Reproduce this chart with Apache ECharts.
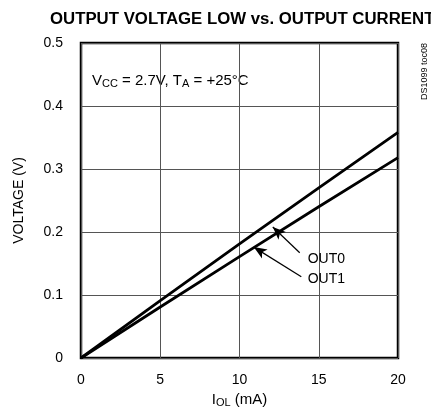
<!DOCTYPE html>
<html>
<head>
<meta charset="utf-8">
<script src="https://cdn.jsdelivr.net/npm/echarts@6/dist/echarts.min.js"></script>
<style>html,body{margin:0;padding:0;background:#fff;}#c{width:431px;height:419px;}</style>
</head>
<body>
<div id="c"></div>
<script>
var currentMA = [0, 5, 10, 15, 20];
var out0 = [0, 0.091, 0.181, 0.27, 0.358];
var out1 = [0, 0.081, 0.161, 0.24, 0.318];
var xTicks = [0, 5, 10, 15, 20];
var yTicks = [0, 0.1, 0.2, 0.3, 0.4, 0.5];
// annotation arrows (data units): [tailX, tailY, tipX, tipY]
var arrowOut0 = [13.8, 0.167, 12.1, 0.208];
var arrowOut1 = [13.9, 0.129, 10.9, 0.176];
var labelOut0 = [14.3, 0.157];
var labelOut1 = [14.3, 0.125];

var FONT = "'Liberation Sans', Arial, sans-serif";
var chart = echarts.init(document.getElementById('c'));

function pairs(xs, ys) { return xs.map(function (x, i) { return [x, ys[i]]; }); }

chart.setOption({
  animation: false,
  textStyle: { fontFamily: FONT, color: '#000' },
  title: {
    text: 'OUTPUT VOLTAGE LOW vs. OUTPUT CURRENT',
    left: 45, top: 6,
    textStyle: { fontFamily: FONT, fontWeight: 'bold', fontSize: 16.8, color: '#000' }
  },
  grid: { left: 81, right: 33, top: 43, bottom: 61, show: true, borderColor: '#000', borderWidth: 2.5, backgroundColor: 'transparent' },
  xAxis: {
    type: 'value', min: 0, max: 20, interval: 5,
    name: '{m|I}{s|OL}{m| (mA)}', nameLocation: 'middle', nameGap: 33,
    nameTextStyle: { rich: { m: { fontSize: 15, fontFamily: FONT }, s: { fontSize: 11, fontFamily: FONT, padding: [6, 0, 0, 0] } } },
    axisLine: { show: false }, axisTick: { show: false },
    axisLabel: { fontSize: 14, margin: 15, color: '#000', fontFamily: FONT },
    splitLine: { show: true, lineStyle: { color: '#555', width: 1 } }
  },
  yAxis: {
    type: 'value', min: 0, max: 0.5, interval: 0.1,
    name: 'VOLTAGE (V)', nameLocation: 'middle', nameGap: 55,
    nameTextStyle: { fontSize: 14, fontFamily: FONT, color: '#000' },
    axisLine: { show: false }, axisTick: { show: false },
    axisLabel: { fontSize: 14, margin: 18, color: '#000', fontFamily: FONT, formatter: function (v) { return v === 0 ? '0' : v.toFixed(1); } },
    splitLine: { show: true, lineStyle: { color: '#555', width: 1 } }
  },
  series: [
    {
      name: 'OUT0', type: 'line', data: pairs(currentMA, out0), symbol: 'none',
      lineStyle: { color: '#000', width: 2.8 },
      markLine: {
        silent: true, symbol: ['none', 'arrow'], symbolSize: [8, 13],
        lineStyle: { color: '#000', width: 1.2, type: 'solid' }, label: { show: false },
        data: [[{ coord: [arrowOut0[0], arrowOut0[1]] }, { coord: [arrowOut0[2], arrowOut0[3]] }],
               [{ coord: [arrowOut1[0], arrowOut1[1]] }, { coord: [arrowOut1[2], arrowOut1[3]] }]]
      },
      markPoint: {
        silent: true, symbol: 'circle', symbolSize: 0,
        label: { show: true, position: 'right', distance: 0, color: '#000', fontSize: 14, fontFamily: FONT, formatter: '{b}' },
        data: [{ name: 'OUT0', coord: labelOut0 }, { name: 'OUT1', coord: labelOut1 }]
      }
    },
    {
      name: 'OUT1', type: 'line', data: pairs(currentMA, out1), symbol: 'none',
      lineStyle: { color: '#000', width: 2.8 }
    }
  ],
  graphic: [
    {
      type: 'text', left: 92, top: 73,
      style: {
        text: '{m|V}{s|CC}{m| = 2.7V, T}{s|A}{m| = +25°C}',
        rich: { m: { fontSize: 15, fontFamily: FONT, fill: '#000' }, s: { fontSize: 11, fontFamily: FONT, fill: '#000', padding: [6, 0, 0, 0] } }
      }
    },
    {
      type: 'text', left: 420, top: 43, rotation: Math.PI / 2,
      style: { text: 'DS1099 toc08', fontSize: 9, fontFamily: FONT, fill: '#000' }
    }
  ]
});
</script>
</body>
</html>
